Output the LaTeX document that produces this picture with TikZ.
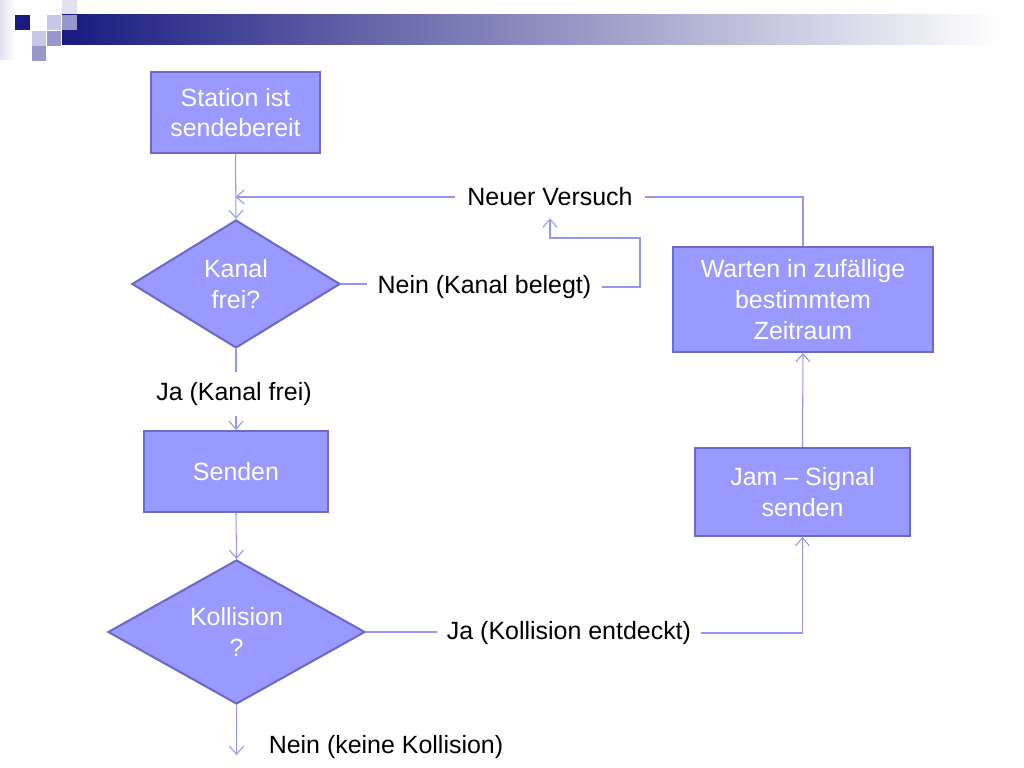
\documentclass[tikz,border=0pt]{standalone}
\usepackage{fontspec}
\setmainfont{Liberation Sans}
\usepackage{tikz}
\usetikzlibrary{arrows.meta,shapes.geometric}
\definecolor{boxfill}{RGB}{153,153,255}
\definecolor{boxline}{RGB}{108,108,200}
\definecolor{linecol}{RGB}{150,150,238}
\definecolor{navy}{RGB}{26,26,128}
\definecolor{lightlav}{RGB}{200,200,230}
\definecolor{midlav}{RGB}{152,152,204}
\definecolor{palelav}{RGB}{225,225,242}
\tikzstyle{process} = [rectangle, draw=boxline, line width=1.2pt, fill=boxfill, text=white, align=center, inner sep=0pt, font=\fontsize{14.2}{17.3}\selectfont]
\tikzstyle{decision} = [diamond, draw=boxline, line width=1.2pt, fill=boxfill, text=white, align=center, inner sep=0pt, font=\fontsize{14.2}{17.3}\selectfont]
\tikzstyle{branchtext} = [align=center, inner sep=0.2cm, font=\fontsize{14.2}{17.3}\selectfont]
\tikzstyle{conn} = [linecol, line width=0.6pt]
\tikzstyle{arrow} = [conn, -{Straight Barb[length=1.6mm,width=2.8mm]}]

\begin{document}
\begin{tikzpicture}
    \useasboundingbox (0,0) rectangle (20.48,-15.36);
    \shade[left color=palelav, right color=white] (0,0) rectangle (0.3,-1.2);
    \fill[palelav] (1.24,0) rectangle (1.54,-0.3);
    \shade[left color=navy, right color=white] (1.24,-0.3) rectangle (20.0,-0.9);
    \fill[navy] (0.3,-0.3) rectangle (0.6,-0.6);
    \fill[lightlav] (0.94,-0.3) rectangle (1.22,-0.6);
    \fill[midlav] (1.24,-0.3) rectangle (1.54,-0.6);
    \fill[lightlav] (0.64,-0.62) rectangle (0.92,-0.92);
    \fill[midlav] (0.94,-0.62) rectangle (1.22,-0.92);
    \fill[midlav] (0.64,-0.92) rectangle (0.92,-1.22);

    \node[process, minimum width=3.38cm, minimum height=1.62cm] (station) at (4.71,-2.25) {Station ist\\sendebereit};
    \node[decision, minimum width=4.16cm, minimum height=2.56cm] (kanal) at (4.72,-5.68) {Kanal\\frei?};
    \node[process, minimum width=3.68cm, minimum height=1.62cm] (senden) at (4.72,-9.43) {Senden};
    \node[decision, minimum width=5.14cm, minimum height=2.88cm] (kollision) at (4.73,-12.64) {Kollision\\?};
    \node[process, minimum width=4.30cm, minimum height=1.76cm] (jam) at (16.05,-9.84) {Jam -- Signal\\senden};
    \node[process, minimum width=5.20cm, minimum height=2.10cm, font=\fontsize{14.2}{17.8}\selectfont] (warten) at (16.06,-5.99) {Warten in zufällige\\bestimmtem\\Zeitraum};

    \node[branchtext, inner sep=0.24cm] (versuch) at (11.0,-3.94) {Neuer Versuch};
    \node[branchtext] (belegt) at (9.69,-5.74) {Nein (Kanal belegt)};
    \node[branchtext] (kanalfrei) at (4.68,-7.88) {Ja (Kanal frei)};
    \node[branchtext] (entdeckt) at (11.38,-12.66) {Ja (Kollision entdeckt)};
    \node[branchtext] (keine) at (7.72,-14.94) {Nein (keine Kollision)};
    \coordinate (ende) at (4.73,-15.1);

    \draw[arrow] (station.south) -- (kanal.north);
    \draw[arrow] (versuch.west) -- (versuch.west -| station.south);
    \draw[conn] (warten.north) |- (versuch.east);
    \draw[conn] (kanal.east) -- (kanal.east -| belegt.west);
    \draw[arrow] (belegt.east) -| (12.8,-4.76) -| (versuch.south);
    \draw[conn] (kanal.south) -- (kanal.south |- kanalfrei.north);
    \draw[arrow] (kanal.south |- kanalfrei.south) -- (senden.north);
    \draw[arrow] (senden.south) -- (kollision.north);
    \draw[conn] (kollision.east) -- (kollision.east -| entdeckt.west);
    \draw[arrow] (entdeckt.east) -| (jam.south);
    \draw[arrow] (jam.north) -- (warten.south);
    \draw[arrow] (kollision.south) -- (ende);
\end{tikzpicture}
\end{document}
